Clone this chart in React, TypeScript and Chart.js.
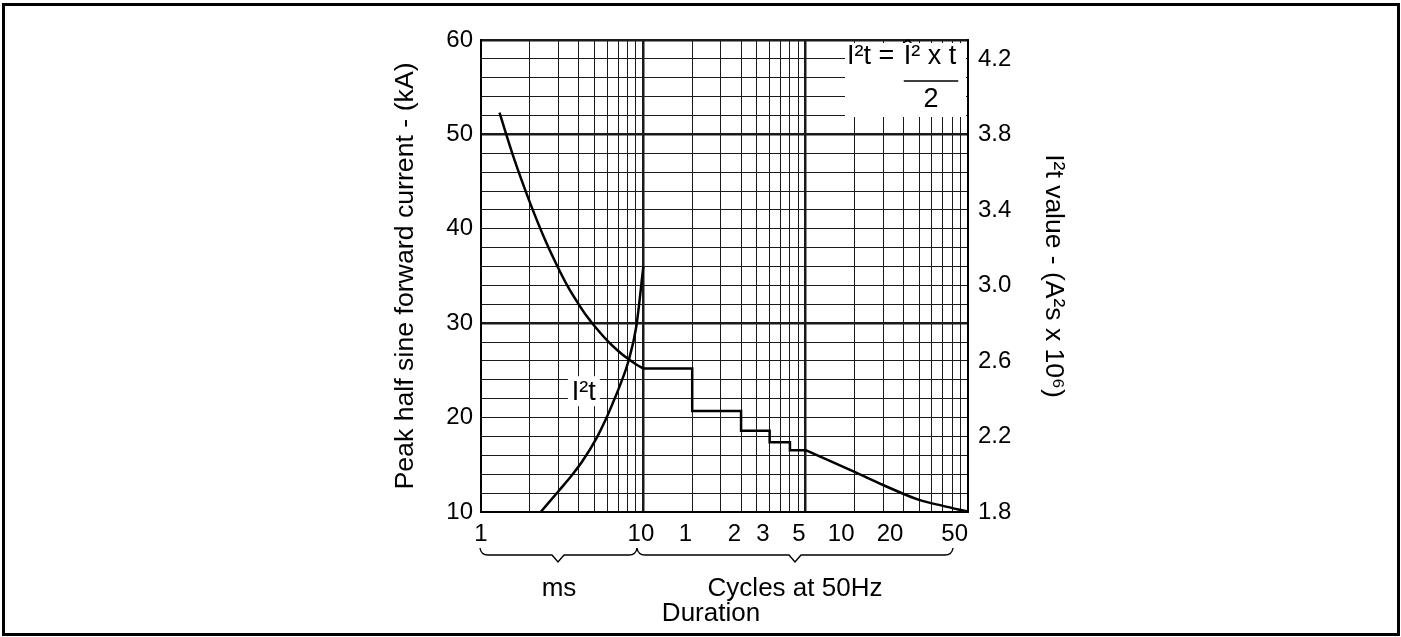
import React, { useEffect, useRef } from 'react';
import { Chart, registerables } from 'chart.js';

Chart.register(...registerables);

const FONT = "'Liberation Sans', Arial, Helvetica, 'DejaVu Sans', sans-serif";

// Peak half sine forward current (kA) – smooth part, duration in ms
const peakCurveMs = [1.3, 1.6, 2, 2.5, 3, 3.5, 4, 4.5, 5, 6, 7, 8, 9, 10];
const peakCurveKA = [52.3, 47.4, 42.8, 38.7, 35.8, 33.6, 32.0, 30.7, 29.7, 28.15, 27.05, 26.25, 25.65, 25.2];

// Peak current – cycle steps (duration in ms, 20 ms = 1 cycle)
const stepMs = [10, 20, 20, 40, 40, 60, 60, 80, 80, 100];
const stepKA = [25.2, 25.2, 20.7, 20.7, 18.6, 18.6, 17.4, 17.4, 16.55, 16.55];

// Peak current – tail beyond 5 cycles
const tailMs = [100, 200, 300, 500, 700, 1000];
const tailKA = [16.55, 14.24, 12.86, 11.28, 10.65, 10.05];

// I²t value (A²s x 10^6) vs duration (ms)
const i2tMs = [2.33, 3, 3.67, 4.22, 5.14, 5.94, 6.45, 7.1, 8.1, 9.04, 10];
const i2tVal = [1.8, 1.91, 2.0, 2.07, 2.19, 2.3, 2.372, 2.46, 2.6, 2.78, 3.1];

// Axes
const xGridValues = [1, 2, 3, 4, 5, 6, 7, 8, 9, 10, 20, 30, 40, 50, 60, 70, 80, 90, 100, 200, 300, 400, 500, 600, 700, 800, 900, 1000];
const xMajorValues = [10, 100];
const xLabelValues = [1, 10, 20, 40, 60, 100, 200, 400, 1000];
const xLabelTexts = ['1', '10', '1', '2', '3', '5', '10', '20', '50'];
const xLabelIsCycle = [false, false, true, true, true, true, true, true, true];
const leftMajorValues = [30, 50, 60];
const rightTicks = [1.8, 2.2, 2.6, 3.0, 3.4, 3.8, 4.2];

const leftTitle = 'Peak half sine forward current - (kA)';
const rightTitle = 'I²t value - (A²s x 10⁶)';
const i2tLabel = 'I²t';
const i2tLabelMs = 4.3;
const i2tLabelKA = 22.8;
const formulaLeft = 'I²t = ';
const formulaNum = 'Î² x t';
const formulaDen = '2';
const msText = 'ms';
const cyclesText = 'Cycles at 50Hz';
const durationText = 'Duration';

const decorPlugin = {
  id: 'decor',
  beforeDatasetsDraw(chart: any) {
    const { ctx, chartArea: a, scales } = chart;
    ctx.save();
    ctx.font = `27px ${FONT}`;
    // I²t label with white background
    const lx = scales.x.getPixelForValue(i2tLabelMs);
    const ly = scales.y.getPixelForValue(i2tLabelKA);
    const w = ctx.measureText(i2tLabel).width;
    ctx.fillStyle = '#fff';
    ctx.fillRect(lx - w / 2 - 4, ly - 15, w + 8, 30);
    ctx.fillStyle = '#000';
    ctx.textAlign = 'center';
    ctx.textBaseline = 'middle';
    ctx.fillText(i2tLabel, lx, ly + 1);

    // formula box
    const bx = a.right - 123;
    const by = a.top + 3;
    ctx.fillStyle = '#fff';
    ctx.fillRect(bx, by, a.right - 2 - bx, 74);
    ctx.fillStyle = '#000';
    ctx.textAlign = 'left';
    ctx.textBaseline = 'alphabetic';
    ctx.font = `27px ${FONT}`;
    const x0 = bx + 2;
    const w1 = ctx.measureText(formulaLeft).width;
    const w2 = ctx.measureText(formulaNum).width;
    ctx.fillText(formulaLeft, x0, a.top + 24);
    ctx.fillText(formulaNum, x0 + w1 + 2, a.top + 24);
    ctx.strokeStyle = '#000';
    ctx.lineWidth = 1.5;
    ctx.beginPath();
    ctx.moveTo(x0 + w1 + 2, a.top + 41);
    ctx.lineTo(x0 + w1 + w2 + 4, a.top + 41);
    ctx.stroke();
    ctx.textAlign = 'center';
    ctx.fillText(formulaDen, x0 + w1 + 3 + w2 / 2, a.top + 67);
    ctx.restore();
  },
  afterDraw(chart: any) {
    const { ctx, chartArea: a } = chart;
    ctx.save();
    ctx.fillStyle = '#000';
    ctx.textAlign = 'center';
    ctx.textBaseline = 'middle';
    const cy = (a.top + a.bottom) / 2;
    // left title
    ctx.font = `26.7px ${FONT}`;
    ctx.save();
    ctx.translate(406, cy);
    ctx.rotate(-Math.PI / 2);
    ctx.fillText(leftTitle, 0, 0);
    ctx.restore();
    // right title
    ctx.font = `26.5px ${FONT}`;
    ctx.save();
    ctx.translate(1053, cy);
    ctx.rotate(Math.PI / 2);
    ctx.fillText(rightTitle, 0, 0);
    ctx.restore();

    // braces
    ctx.strokeStyle = '#000';
    ctx.lineWidth = 1.4;
    const brace = (x1: number, xm: number, x2: number) => {
      const yTop = a.bottom + 36;
      const yLine = a.bottom + 43;
      const yTip = a.bottom + 50;
      ctx.beginPath();
      ctx.moveTo(x1, yTop);
      ctx.quadraticCurveTo(x1 + 1, yLine, x1 + 8, yLine);
      ctx.lineTo(xm - 6, yLine);
      ctx.lineTo(xm, yTip);
      ctx.lineTo(xm + 6, yLine);
      ctx.lineTo(x2 - 8, yLine);
      ctx.quadraticCurveTo(x2 - 1, yLine, x2, yTop);
      ctx.stroke();
    };
    brace(a.left - 1, a.left + 77, a.left + 156);
    brace(a.left + 156, a.left + 314, a.left + 472);

    ctx.font = `26px ${FONT}`;
    ctx.fillText(msText, a.left + 78, a.bottom + 77);
    ctx.fillText(cyclesText, a.left + 314, a.bottom + 77);
    ctx.fillText(durationText, a.left + 230, a.bottom + 102);
    ctx.restore();
  },
};

export default function App() {
  const ref = useRef<HTMLCanvasElement>(null);
  useEffect(() => {
    const canvas = ref.current;
    if (!canvas) return;
    const toXY = (xs: number[], ys: number[]) => xs.map((x, i) => ({ x, y: ys[i] }));
    const tickFont = { family: FONT, size: 24 };
    const line = { borderColor: '#000', borderWidth: 2.5, pointRadius: 0, fill: false };
    const chart = new Chart(canvas, {
      type: 'line',
      data: {
        datasets: [
          { ...line, label: 'Peak current', data: toXY(peakCurveMs, peakCurveKA), yAxisID: 'y', cubicInterpolationMode: 'monotone' },
          { ...line, label: 'Peak current (cycles)', data: toXY(stepMs, stepKA), yAxisID: 'y', tension: 0 },
          { ...line, label: 'Peak current (tail)', data: toXY(tailMs, tailKA), yAxisID: 'y', cubicInterpolationMode: 'monotone' },
          { ...line, label: 'I²t', data: toXY(i2tMs, i2tVal), yAxisID: 'y2', cubicInterpolationMode: 'monotone' },
        ],
      },
      options: {
        responsive: false,
        animation: false,
        devicePixelRatio: 1,
        layout: { padding: { top: 40, left: 0, right: 0, bottom: 0 } },
        plugins: {
          legend: { display: false },
          tooltip: { enabled: false },
          title: { display: false },
        },
        scales: {
          x: {
            type: 'logarithmic',
            min: 1,
            max: 1000,
            afterBuildTicks: (s: any) => {
              s.ticks = xGridValues.map((v) => ({ value: v }));
            },
            afterFit: (s: any) => {
              s.height = 125;
            },
            ticks: {
              autoSkip: false,
              maxRotation: 0,
              minRotation: 0,
              padding: 8,
              color: '#000',
              font: tickFont,
              callback: (v: any) => {
                const i = xLabelValues.indexOf(Number(v));
                if (i < 0) return '';
                const t = xLabelTexts[i];
                if (xLabelIsCycle[i]) return t + '\u2007'.repeat(t.length);
                return i === 1 ? t + '\u2009' : t;
              },
            },
            grid: {
              color: '#1a1a1a',
              lineWidth: (c: any) =>
                c.tick && xMajorValues.includes(c.tick.value) ? 2.5 : c.tick && (c.tick.value === 1 || c.tick.value === 1000) ? 2 : 1,
              drawTicks: false,
            },
            border: { color: '#000', width: 2 },
          },
          y: {
            type: 'linear',
            position: 'left',
            min: 10,
            max: 60,
            afterFit: (s: any) => {
              s.width = 481;
            },
            ticks: {
              stepSize: 2,
              autoSkip: false,
              padding: 8,
              color: '#000',
              font: tickFont,
              callback: (v: any) => (Number(v) % 10 === 0 ? String(v) : ''),
            },
            grid: {
              color: '#1a1a1a',
              lineWidth: (c: any) => (c.tick && leftMajorValues.includes(c.tick.value) ? 2.5 : 1),
              drawTicks: false,
            },
            border: { color: '#000', width: 2 },
          },
          y2: {
            type: 'linear',
            position: 'right',
            min: 1.8,
            max: 4.3,
            afterBuildTicks: (s: any) => {
              s.ticks = rightTicks.map((v) => ({ value: v }));
            },
            afterFit: (s: any) => {
              s.width = 433;
            },
            ticks: {
              autoSkip: false,
              padding: 10,
              color: '#000',
              font: tickFont,
              callback: (v: any) => Number(v).toFixed(1),
            },
            grid: { drawOnChartArea: false, drawTicks: false },
            border: { color: '#000', width: 2 },
          },
        },
      },
      plugins: [decorPlugin],
    } as any);
    return () => chart.destroy();
  }, []);

  return (
    <div style={{ position: 'fixed', left: 0, top: 0, width: 1401, height: 637, background: '#fff', overflow: 'hidden' }}>
      <canvas ref={ref} width={1401} height={637} style={{ position: 'absolute', left: 0, top: 0, width: 1401, height: 637 }} />
      <div
        style={{
          position: 'absolute',
          left: 2,
          top: 3,
          width: 1398,
          height: 633,
          border: '3px solid #000',
          boxSizing: 'border-box',
          pointerEvents: 'none',
        }}
      />
    </div>
  );
}
